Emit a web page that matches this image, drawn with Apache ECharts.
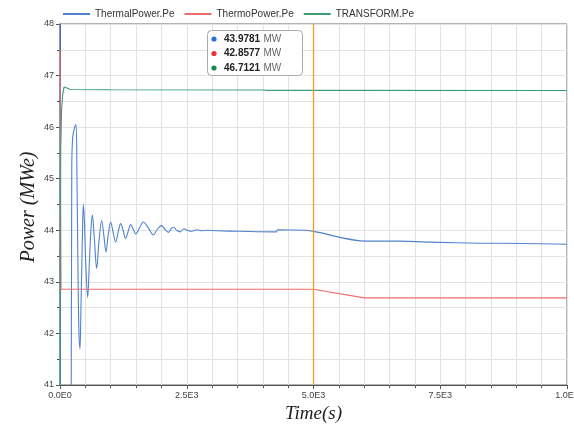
<!DOCTYPE html>
<html>
<head>
<meta charset="utf-8">
<script src="https://cdn.jsdelivr.net/npm/echarts@6/dist/echarts.min.js"></script>
<style>
  html, body { margin: 0; padding: 0; background: #fff; }
  #chart { width: 574px; height: 427px; }
</style>
</head>
<body>
<div id="chart"></div>
<script>
// time (s) / power (MWe) pairs
const thermalT = [0, 8, 220, 232, 250, 290, 316, 335, 355, 372, 394, 410, 440, 460, 480, 510, 546, 580, 610, 637, 680, 723, 770, 822, 865, 907, 950, 999, 1050, 1098, 1150, 1197, 1245, 1295, 1345, 1394, 1445, 1493, 1570, 1644, 1740, 1841, 1920, 2005, 2070, 2137, 2185, 2235, 2300, 2370, 2440, 2510, 2600, 2700, 2800, 2900, 3100, 3550, 4270, 4290, 4830, 5000, 6050, 6700, 7300, 8300, 9100, 10000];
const thermalV = [48.6, 40.5, 40.5, 45.2, 45.8, 46.0, 46.05, 45.0, 43.2, 42.1, 41.7, 42.3, 43.8, 44.5, 44.2, 43.3, 42.7, 43.4, 44.0, 44.3, 43.8, 43.26, 43.8, 44.19, 43.9, 43.58, 43.9, 44.16, 43.95, 43.77, 43.98, 44.13, 44.0, 43.84, 43.98, 44.11, 44.02, 43.93, 44.05, 44.16, 44.05, 43.91, 44.02, 44.09, 44.02, 43.96, 44.02, 44.06, 44.0, 43.97, 44.03, 44.0, 43.98, 44.01, 43.99, 44.0, 43.99, 43.98, 43.97, 44.01, 44.0, 43.9781, 43.79, 43.79, 43.77, 43.75, 43.745, 43.73];

const thermoT = [0, 20, 5000, 6000, 10000];
const thermoV = [47.5, 42.8577, 42.8577, 42.69, 42.69];

const transformT = [0, 5, 15, 30, 50, 80, 100, 140, 200, 1000, 4000, 4100, 5000, 10000];
const transformV = [40.5, 44.1, 45.6, 46.3, 46.6, 46.78, 46.8, 46.76, 46.73, 46.725, 46.72, 46.7121, 46.7121, 46.71];

const seriesNames = ['ThermalPower.Pe', 'ThermoPower.Pe', 'TRANSFORM.Pe'];
const seriesColors = ['#4f83cc', '#ee6b6b', '#3c9d74'];
const dotColors = ['#2a6fd6', '#e83535', '#1a8a4a'];
const cursorTime = 5000;

const zip = (t, v) => t.map((x, i) => [x, v[i]]);
const allData = [zip(thermalT, thermalV), zip(thermoT, thermoV), zip(transformT, transformV)];

// value shown in the readout at the cursor time
function valueAt(t, v, x) {
    for (let i = 0; i < t.length; i++) {
        if (t[i] === x) return v[i];
    }
    return v[v.length - 1];
}
const readout = [
    valueAt(thermalT, thermalV, cursorTime),
    valueAt(thermoT, thermoV, cursorTime),
    valueAt(transformT, transformV, cursorTime)
];

const chart = echarts.init(document.getElementById('chart'));

const rows = [];
readout.forEach((val, i) => {
    const y = 39 + i * 14.5;
    rows.push({ type: 'circle', z: 101, shape: { cx: 214, cy: y, r: 2.6 }, style: { fill: dotColors[i] } });
    rows.push({
        type: 'text', z: 101, x: 224, y: y,
        style: {
            text: '{b|' + val.toFixed(4) + '} {u|MW}',
            verticalAlign: 'middle',
            rich: {
                b: { fontFamily: 'Liberation Sans, Arial', fontSize: 10, fontWeight: 'bold', fill: '#222' },
                u: { fontFamily: 'Liberation Sans, Arial', fontSize: 10, fill: '#666' }
            }
        }
    });
});

const option = {
    animation: false,
    color: seriesColors,
    legend: {
        left: 58,
        top: 4,
        itemWidth: 27,
        itemHeight: 2,
        itemGap: 10,
        icon: 'rect',
        textStyle: { fontFamily: 'Liberation Sans, Arial', fontSize: 10, color: '#333' },
        data: seriesNames
    },
    grid: {
        left: 60, right: 7, top: 24, bottom: 42,
        outerBoundsMode: 'none',
        containLabel: false,
        show: true, borderColor: '#666', borderWidth: 1
    },
    xAxis: {
        type: 'value',
        min: 0, max: 10000, interval: 2500,
        name: 'Time(s)',
        nameLocation: 'middle',
        nameGap: 19,
        nameTextStyle: { fontFamily: 'Liberation Serif, Times New Roman', fontStyle: 'italic', fontSize: 19, color: '#222' },
        axisLine: { lineStyle: { color: '#555' } },
        axisTick: { show: true, length: 4, lineStyle: { color: '#555' } },
        minorTick: { show: true, splitNumber: 5, length: 3, lineStyle: { color: '#555' } },
        axisLabel: {
            fontFamily: 'Liberation Sans, Arial', fontSize: 9, color: '#444', margin: 6,
            formatter: v => v.toExponential(1).replace('e+', 'E')
        },
        splitLine: { show: true, lineStyle: { color: '#e3e3e3' } },
        minorSplitLine: { show: true, lineStyle: { color: '#e3e3e3' } }
    },
    yAxis: {
        type: 'value',
        min: 41, max: 48, interval: 1,
        axisLine: { show: true, lineStyle: { color: '#555' } },
        axisTick: { show: true, length: 4, lineStyle: { color: '#555' } },
        minorTick: { show: true, splitNumber: 2, length: 3, lineStyle: { color: '#555' } },
        axisLabel: { fontFamily: 'Liberation Sans, Arial', fontSize: 9, color: '#444', margin: 6 },
        splitLine: { show: true, lineStyle: { color: '#e3e3e3' } },
        minorSplitLine: { show: true, lineStyle: { color: '#e3e3e3' } }
    },
    series: seriesNames.map((name, i) => ({
        name: name,
        type: 'line',
        data: allData[i],
        showSymbol: false,
        clip: true,
        smooth: i === 0 ? 0.35 : false,
        lineStyle: { width: 1.1, color: seriesColors[i] },
        markLine: i === 0 ? {
            silent: true,
            symbol: 'none',
            label: { show: false },
            lineStyle: { color: '#f0a020', width: 1.3, type: 'solid' },
            data: [{ xAxis: cursorTime }]
        } : undefined
    })),
    graphic: [{
        type: 'text',
        x: 29, y: 207,
        rotation: Math.PI / 2,
        style: {
            text: 'Power (MWe)',
            align: 'center', verticalAlign: 'middle',
            fontFamily: 'Liberation Serif, Times New Roman', fontStyle: 'italic', fontSize: 20, fill: '#222'
        }
    }, {
        type: 'group',
        z: 100,
        children: [{
            type: 'rect',
            z: 100,
            shape: { x: 207.5, y: 30.5, width: 95, height: 45, r: 4 },
            style: { fill: '#fff', stroke: '#aaa', lineWidth: 1 }
        }].concat(rows)
    }]
};

chart.setOption(option);
</script>
</body>
</html>
